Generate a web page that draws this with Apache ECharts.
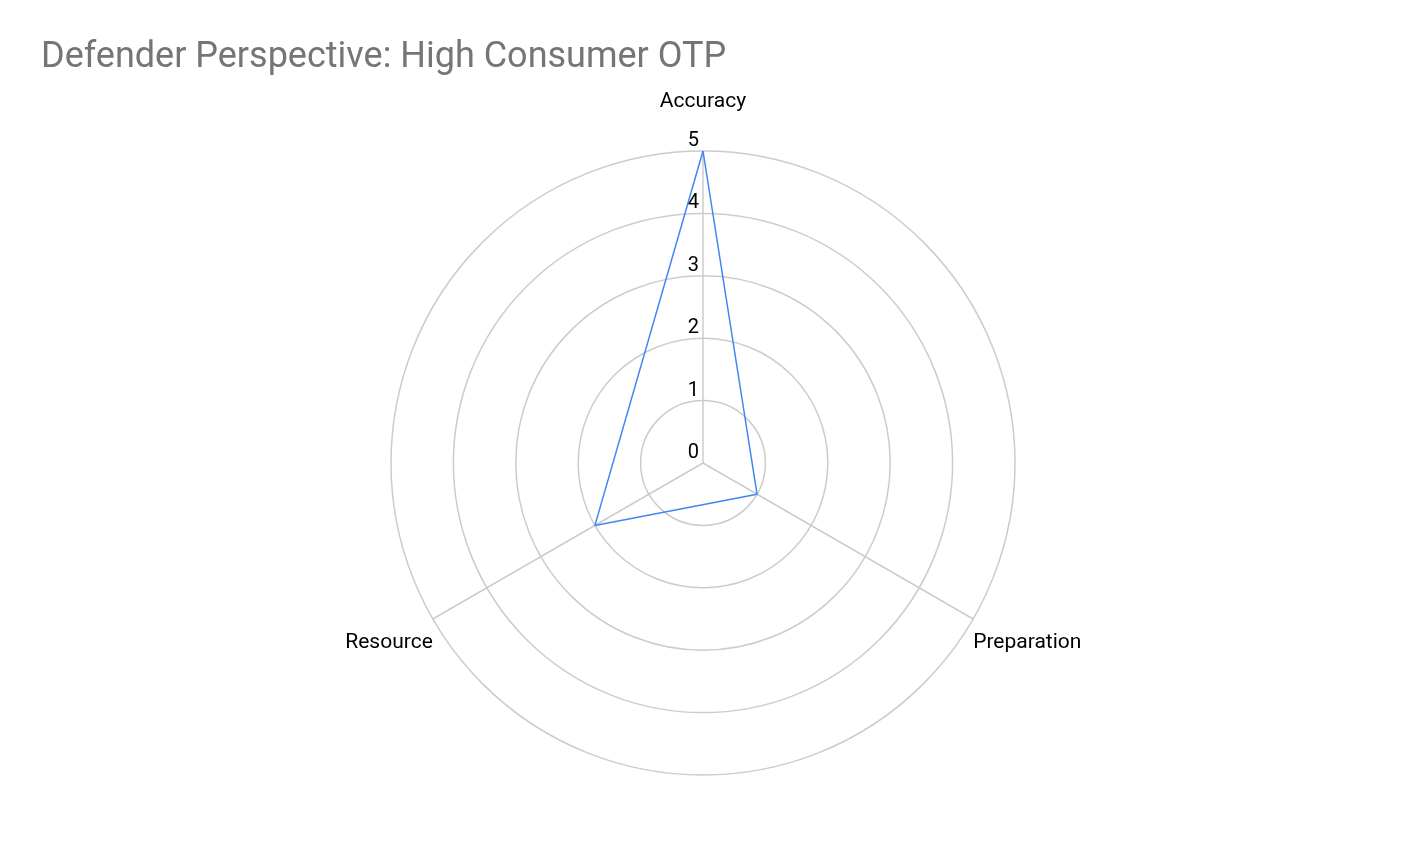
<!DOCTYPE html>
<html>
<head>
<meta charset="utf-8">
<script src="https://cdn.jsdelivr.net/npm/echarts@6/dist/echarts.min.js"></script>
<style>
  html, body { margin: 0; padding: 0; background: #fff; }
  #chart { width: 1402px; height: 864px; }
</style>
</head>
<body>
<div id="chart"></div>
<script>
// radar runs counter-clockwise, so list spokes in that order
var indicators = ['Accuracy', 'Resource', 'Preparation'];
var values = [5, 2, 1];
var maxValue = 5;
var tickLabels = ['0', '1', '2', '3', '4', '5'];

(function() {
  var myChart = echarts.init(document.getElementById('chart'));

  var option = {
    backgroundColor: '#fff',
    title: {
      text: 'Defender Perspective: High Consumer OTP',
      left: 41,
      top: 40,
      padding: 0,
      textStyle: {
        fontFamily: 'Roboto',
        fontSize: 36,
        fontWeight: 'normal',
        color: '#757575'
      }
    },
    // radar draws the rings, spokes and the polygon
    radar: {
      center: [703, 463],
      radius: 312,
      startAngle: 90,
      shape: 'circle',
      splitNumber: 5,
      nameGap: 0,
      axisName: {
        color: '#000',
        fontFamily: 'Roboto',
        fontSize: 21,
        lineHeight: 48,
        padding: [0, 0, 25, 0],
        // side labels sit lower than the spoke ends, push them down a line
        formatter: function(name) {
          return name === indicators[0] ? name : '\n' + name;
        }
      },
      splitArea: { show: false },
      splitLine: { lineStyle: { color: '#cccccc', width: 1.5 } },
      axisLine: { lineStyle: { color: '#cccccc', width: 1.5 } },
      indicator: indicators.map(function(n) {
        return { name: n, min: 0, max: maxValue };
      })
    },
    // polar only carries the 0..5 labels along the top spoke
    polar: {
      center: [703, 463],
      radius: 312
    },
    angleAxis: {
      show: false,
      startAngle: 90,
      min: 0,
      max: 360
    },
    radiusAxis: {
      min: 0,
      max: maxValue,
      interval: 1,
      axisLine: { show: false },
      axisTick: { show: false },
      splitLine: { show: false },
      axisLabel: {
        color: '#000',
        fontFamily: 'Roboto',
        fontSize: 20,
        margin: 4,
        align: 'right',
        verticalAlign: 'bottom',
        formatter: function(v) { return tickLabels[v]; }
      }
    },
    series: [
      {
        type: 'radar',
        symbol: 'none',
        lineStyle: { color: '#4285f4', width: 1.5 },
        data: [{ value: values, name: 'Defender' }]
      }
    ]
  };

  myChart.setOption(option);
})();
</script>
</body>
</html>
